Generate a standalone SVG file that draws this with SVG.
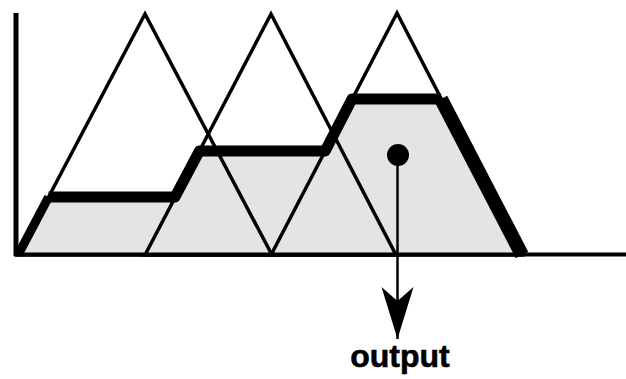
<svg xmlns="http://www.w3.org/2000/svg" width="626" height="379" viewBox="0 0 626 379">
  <style>
    .thin { fill: none; stroke: #000; stroke-width: 3.5; stroke-linejoin: miter; }
    .thick { fill: none; stroke: #000; stroke-linejoin: round; stroke-linecap: butt; }
    .area { fill: #e4e4e4; stroke: none; }
    .label { font-family: "Liberation Sans", Arial, sans-serif; font-weight: bold; font-size: 32px; fill: #000; stroke: #000; stroke-width: 0.6; }
  </style>
  <defs>
    <marker id="arrowhead" markerUnits="userSpaceOnUse" markerWidth="54" markerHeight="34" refX="52" refY="17" orient="auto" viewBox="0 0 54 34">
      <path d="M52,17 L0,1 L14,17 L0,33 Z" fill="#000"/>
    </marker>
  </defs>

  <g id="aggregate-fill">
    <polygon class="area" points="18,255 48.6,197 175,197 199.4,151 325.2,151 352,99 441,99 522,255"/>
  </g>

  <g id="membership-functions">
    <polygon id="mf1" class="thin" points="18,255 145,14 272,255"/>
    <polygon id="mf2" class="thin" points="145,255 271,14 396,255"/>
    <polygon id="mf3" class="thin" points="271,255 397,13 522,255"/>
  </g>

  <g id="aggregate-outline">
    <polyline class="thick" stroke-width="9" points="18,255 48.6,197"/>
    <polyline class="thick" stroke-width="11" points="48.6,197 175,197 199.4,151 325.2,151 352,99 441,99"/>
    <polyline class="thick" stroke-width="14" points="441,99 522,255"/>
  </g>

  <g id="axes">
    <line x1="16" y1="13" x2="16" y2="256" stroke="#000" stroke-width="5"/>
    <line x1="14" y1="254.5" x2="626" y2="254.5" stroke="#000" stroke-width="4"/>
  </g>

  <g id="centroid">
    <circle cx="398" cy="155" r="11" fill="#000"/>
  </g>

  <g id="connectors">
    <line x1="397.5" y1="155" x2="397.5" y2="339" stroke="#000" stroke-width="2.5" marker-end="url(#arrowhead)"/>
  </g>

  <g id="output">
    <text class="label" x="400" y="367" text-anchor="middle">output</text>
  </g>
</svg>
